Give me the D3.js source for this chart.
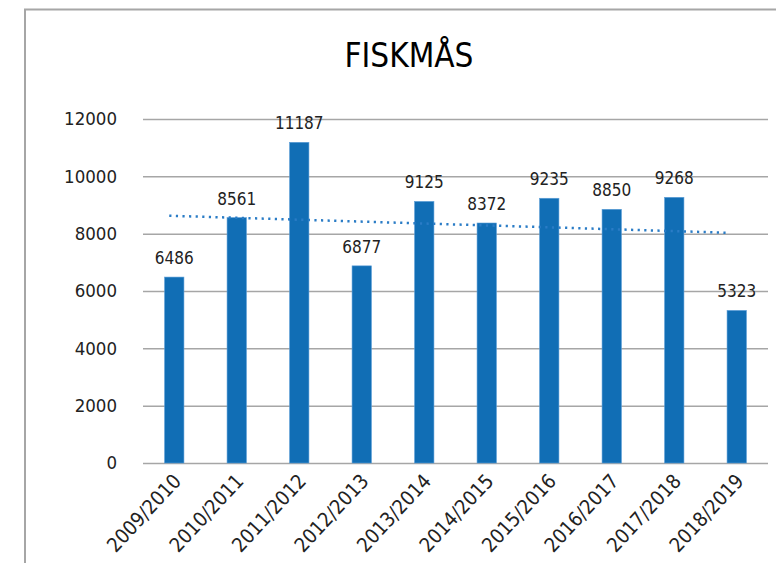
<!DOCTYPE html>
<html>
<head>
<meta charset="utf-8">
<script src="https://cdn.jsdelivr.net/npm/d3@7"></script>
<style>
  html, body { margin: 0; padding: 0; background: #fff; }
  svg { display: block; font-family: "DejaVu Sans Condensed", "DejaVu Sans", sans-serif; }
</style>
</head>
<body>
<div id="chart"></div>
<script>
(function(){
  // data
  const seasons = ["2009/2010", "2010/2011", "2011/2012", "2012/2013", "2013/2014",
                   "2014/2015", "2015/2016", "2016/2017", "2017/2018", "2018/2019"];
  const counts = [6486, 8561, 11187, 6877, 9125, 8372, 9235, 8850, 9268, 5323];
  const yTicks = [0, 2000, 4000, 6000, 8000, 10000, 12000];
  const title = "FISKMÅS";

  const width = 776, height = 563;
  const plot = { left: 143, right: 768, top: 119, bottom: 463 };

  const svg = d3.select("#chart").append("svg")
      .attr("width", width)
      .attr("height", height);

  // chart frame (only left and top edges are visible)
  svg.append("rect")
      .attr("x", 25).attr("y", 9.5)
      .attr("width", 900).attr("height", 700)
      .attr("fill", "none")
      .attr("stroke", "#a6a6a6")
      .attr("stroke-width", 2);

  svg.append("text")
      .attr("x", 409).attr("y", 67)
      .attr("text-anchor", "middle")
      .attr("font-size", 33)
      .attr("fill", "#000")
      .text(title);

  const x = d3.scaleBand()
      .domain(seasons)
      .range([plot.left, plot.right])
      .paddingInner(0.69)
      .paddingOuter(0.345);

  const y = d3.scaleLinear()
      .domain([0, 12000])
      .range([plot.bottom, plot.top]);

  // gridlines + y labels
  const yAxis = svg.append("g")
      .attr("transform", `translate(${plot.left},0)`)
      .call(d3.axisLeft(y).tickValues(yTicks)
          .tickSize(-(plot.right - plot.left))
          .tickPadding(26)
          .tickFormat(d3.format("d")));
  yAxis.select(".domain").remove();
  yAxis.selectAll(".tick line")
      .attr("stroke", "#a6a6a6")
      .attr("stroke-width", 1.5);
  yAxis.selectAll(".tick text")
      .attr("font-size", 18.5)
      .attr("font-family", "DejaVu Sans Condensed, DejaVu Sans, sans-serif")
      .attr("fill", "#222");

  // bars
  svg.append("g").selectAll("rect")
      .data(counts)
      .join("rect")
      .attr("x", (d, i) => x(seasons[i]))
      .attr("y", d => y(d))
      .attr("width", x.bandwidth())
      .attr("height", d => y(0) - y(d))
      .attr("fill", "#116eb5")
      .attr("stroke", "#5d9fd8")
      .attr("stroke-width", 0.6);

  // value labels
  svg.append("g").selectAll("text")
      .data(counts)
      .join("text")
      .attr("x", (d, i) => x(seasons[i]) + x.bandwidth() / 2)
      .attr("y", d => y(d) - 13)
      .attr("text-anchor", "middle")
      .attr("font-size", 17)
      .attr("fill", "#222")
      .text(d => d);

  // linear trendline fitted to the counts
  const n = counts.length;
  const xs = d3.range(1, n + 1);
  const mx = d3.mean(xs), my = d3.mean(counts);
  const slope = d3.sum(xs, (v, i) => (v - mx) * (counts[i] - my)) / d3.sum(xs, v => (v - mx) * (v - mx));
  const intercept = my - slope * mx;
  const trend = [1, n].map(k => [
      x(seasons[k - 1]) + x.bandwidth() / 2 - (k === 1 ? 5 : 9),
      y(intercept + slope * k)
  ]);
  svg.append("path")
      .attr("d", d3.line()(trend))
      .attr("fill", "none")
      .attr("stroke", "#2a7cc6")
      .attr("stroke-width", 2.5)
      .attr("stroke-dasharray", "2.2,4.4");

  // x axis labels, rotated
  svg.append("g").selectAll("text")
      .data(seasons)
      .join("text")
      .attr("transform", d => `translate(${x(d) + x.bandwidth() / 2 + 8},${plot.bottom + 19}) rotate(-47)`)
      .attr("text-anchor", "end")
      .attr("font-size", 20)
      .attr("fill", "#222")
      .text(d => d);
})();
</script>
</body>
</html>
